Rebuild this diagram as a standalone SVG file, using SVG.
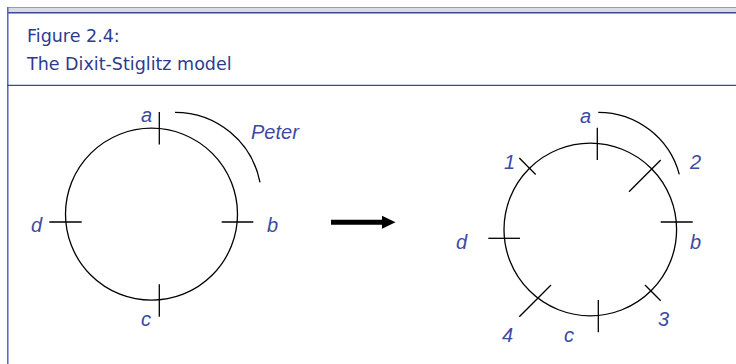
<svg xmlns="http://www.w3.org/2000/svg" width="736" height="364" viewBox="0 0 736 364">
<style>
.title{font-family:"DejaVu Sans","Verdana",sans-serif;font-size:17.5px;fill:#2e3b8f}
.lbl{font-family:"Liberation Sans",Arial,sans-serif;font-style:italic;font-size:20px;fill:#3d4aa3}
.ln{fill:none;stroke:#000;stroke-width:1.3}
</style>
<g id="frame">
<rect x="7" y="7" width="729" height="6" fill="#d9dbe4"/>
<line x1="7" y1="7.5" x2="736" y2="7.5" stroke="#8f9ad6" stroke-width="1"/>
<line x1="7" y1="12.8" x2="736" y2="12.8" stroke="#3a4899" stroke-width="1.4"/>
<line x1="7.8" y1="7" x2="7.8" y2="364" stroke="#5563b5" stroke-width="1.5"/>
<line x1="7" y1="85.3" x2="736" y2="85.3" stroke="#3a4899" stroke-width="1.2"/>
<text class="title" x="27" y="42">Figure 2.4:</text>
<text class="title" x="27" y="70">The Dixit-Stiglitz model</text>
</g>
<g id="left-circle">
<circle class="ln" cx="151.5" cy="214.2" r="86"/>
<line class="ln" x1="159.3" y1="112" x2="159.3" y2="144.5"/>
<line class="ln" x1="221.7" y1="222" x2="253.3" y2="222"/>
<line class="ln" x1="159.3" y1="284.3" x2="159.3" y2="316.7"/>
<line class="ln" x1="49.3" y1="222" x2="81.7" y2="222"/>
<path class="ln" d="M175,112.3 A86.6,86.6 0 0 1 260,182.3"/>
<text class="lbl" x="141" y="122">a</text>
<text class="lbl" x="267" y="232">b</text>
<text class="lbl" x="141" y="326">c</text>
<text class="lbl" x="31" y="231.5">d</text>
<text class="lbl" x="251" y="138.5">Peter</text>
</g>
<g id="connectors">
<line x1="331" y1="222.3" x2="384" y2="222.3" stroke="#000" stroke-width="5"/>
<polygon points="382,215.8 395.5,222.3 382,228.8" fill="#000"/>
</g>
<g id="right-circle">
<circle class="ln" cx="590.3" cy="229.5" r="86.3"/>
<line class="ln" x1="597.3" y1="127.7" x2="597.3" y2="160"/>
<line class="ln" x1="660.7" y1="222" x2="692.7" y2="222"/>
<line class="ln" x1="598.3" y1="300" x2="598.3" y2="332.3"/>
<line class="ln" x1="488.3" y1="238.3" x2="520" y2="238.3"/>
<line class="ln" x1="519.3" y1="158" x2="535.7" y2="174.5"/>
<line class="ln" x1="660.7" y1="160" x2="629" y2="191.7"/>
<line class="ln" x1="645" y1="285" x2="660.7" y2="300.7"/>
<line class="ln" x1="551" y1="285" x2="519.3" y2="316.7"/>
<path class="ln" d="M598.3,112.3 A84,84 0 0 1 679.3,174.3"/>
<text class="lbl" x="580" y="123">a</text>
<text class="lbl" x="504" y="169">1</text>
<text class="lbl" x="690" y="169">2</text>
<text class="lbl" x="690" y="249">b</text>
<text class="lbl" x="456" y="249">d</text>
<text class="lbl" x="658" y="325.5">3</text>
<text class="lbl" x="502" y="342">4</text>
<text class="lbl" x="564" y="342">c</text>
</g>
</svg>
